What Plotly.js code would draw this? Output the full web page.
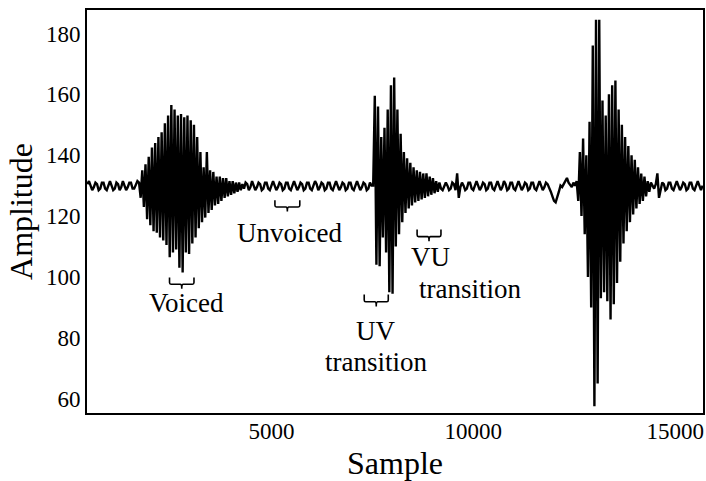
<!DOCTYPE html>
<html>
<head>
<meta charset="utf-8">
<script src="https://cdn.plot.ly/plotly-3.0.1.min.js"></script>
<style>html,body{margin:0;padding:0;background:#fff}#chart{width:706px;height:481px}</style>
</head>
<body>
<div id="chart"></div>
<script>
// Sample axis: first sample and spacing between listed amplitude readings
const sampleStart = 440;
const sampleStep = 40;

// Amplitude readings, segment by segment
const leadIn = [130.5,131.5,130,128.5,129.5,131,130.5,128.5,129,131,131,129,128.5,130,131.5,130,
  128.5,129,131,130.5,128.5,129.5,131.5,130,128.5,129.5,131,131,129,129,130.5,131.5];
const voicedBurst = [131,126,135,123,137,119,139.5,117,142.5,115,144,114.5,146,113,147.5,112,
  150.5,110.5,153,106.5,156.5,108,155,109,153,103,153.5,101.5,152.5,108,153,107.5,151.5,111,
  150,113,146,116,141,118,136,119.5,141,121,135,122,134.5,123.5,133,124,133,125,132.5,126,
  132.5,126.5,131.5,127,131.5,127.5,131,128,131,128.5,130.5];
const unvoicedGap = [129,131,130.5,128.5,129.5,131.5,130,128.5,
  129.5,131,130.5,128.5,129,131,131,129,
  128.5,130,131.5,130,128.5,129.5,131,130.5,
  128.5,129,131,131,129,128.5,130,131.5,
  130,128.5,129.5,131,130.5,128.5,129,131,
  131,129,128.5,130,131.5,130.5,128.5,129.5,
  131,130.5,128.5,129,131,131,129,128.5,
  130,131.5,130,128.5,129.5,131,130.5,128.5,
  129,131,131,129,128.5,130,131.5,130,
  128.5,129.5,131,130.5,128.5,129,131,130];
const uvBurst = [130,159.5,104,156,103.5,146,113,149,108,155,95,163,94.5,165.5,110,155,114,147,
  118,141,121,139,122.5,137.5,123.5,136,124.5,135,125,134.5,125.5,134,126,134,126.5,133,127,
  132.5,127.5,131.5,128,131];
const midGap = [129,128.5,130,131,130,128.5,129,131,
  130.5,128.5,134,126,129.5,131,130,128.5,
  129,131,131,129,128.5,130,131.5,130,
  128.5,129.5,131,130.5,128.5,129,131,131,
  129,128.5,130,131.5,130,128.5,129.5,131.5,
  130.5,128.5,129,131,131,129,128.5,130,
  131.5,130,128.5,129.5,131,130.5,128.5,129,
  131,131,129,128.5,130,131.5,130,128.5,
  129.5,131,130.5,129.5,128,126.5,125,124.5,
  126,128,130,129.5,130.5,131.5,132.5,131,
  130,129.5,131];
const finalBurst = [130,131.5,125,141,120,145.5,114,140,100,151,90,176,57.5,184.5,65,184.5,93,158,
  95,153,92,160,86,163,91,164.5,98,155,105,150,111,146,115,143,118,140,120.5,138.5,122.5,136,
  124,134,125,133,126.5,131.5,128,131];
const tailOut = [130,129,130.5,134,126,129,131,130.5,
  128.5,129,131,131,129,128.5,130,131.5,
  130,128.5,129.5,131,130.5,128.5,129,131,
  131,129,128.5,130,131.5,130,128.5,130];

const amplitude = [].concat(leadIn, voicedBurst, unvoicedGap, uvBurst, midGap, finalBurst, tailOut);
const sample = amplitude.map((_, i) => sampleStart + sampleStep * i);

// Axis ticks
const xTicks = [5000, 10000, 15000];
const yTicks = [60, 80, 100, 120, 140, 160, 180];

// Region labels: [left sample, right sample, brace top amplitude, brace depth]
const braceSpans = [[2475, 3081, 99.8, 3.7], [5086, 5702, 125.2, 3.7], [7298, 7894, 94.2, 3.9], [8608, 9199, 115.6, 3.9]];
const labelTexts = ["Voiced", "Unvoiced", "UV", "transition", "VU", "transition"];
const labelX = [2894, 5443, 7586, 7586, 8930, 9914];
const labelY = [91.3, 114.3, 82.4, 72.0, 106.4, 96.2];

const FONT = "Liberation Serif, Times New Roman, serif";

function bracePath(xl, xr, yt, d) {
  const xc = (xl + xr) / 2, w = xr - xl;
  const yb = yt - d * 0.6, ytip = yt - d;
  const r = w * 0.06;
  return `M${xl},${yt} L${xl},${yb + d*0.15} Q${xl},${yb} ${xl + r},${yb} L${xc - r},${yb} ` +
         `Q${xc},${yb} ${xc},${ytip} Q${xc},${yb} ${xc + r},${yb} L${xr - r},${yb} ` +
         `Q${xr},${yb} ${xr},${yb + d*0.15} L${xr},${yt}`;
}

const shapes = braceSpans.map(b => ({
  type: 'path', xref: 'x', yref: 'y', path: bracePath(b[0], b[1], b[2], b[3]),
  line: {color: 'black', width: 1.6}
}));

const annotations = labelTexts.map((t, i) => ({
  x: labelX[i], y: labelY[i], xref: 'x', yref: 'y', text: t, showarrow: false,
  xanchor: 'center', yanchor: 'middle', font: {family: FONT, size: 27, color: 'black'}
}));

const trace = {
  x: sample, y: amplitude, type: 'scatter', mode: 'lines',
  line: {color: 'black', width: 2.4}, hoverinfo: 'skip'
};

const layout = {
  width: 706, height: 481,
  margin: {l: 87, r: 3, t: 10, b: 68, pad: 0},
  paper_bgcolor: 'white', plot_bgcolor: 'white',
  showlegend: false,
  font: {family: FONT, color: 'black'},
  xaxis: {
    range: [431, 15690], tickvals: xTicks, ticktext: xTicks.map(String),
    showgrid: false, zeroline: false, showline: true, mirror: true,
    linecolor: 'black', linewidth: 2, ticks: '', ticklen: 0, ticklabelstandoff: -4,
    tickfont: {family: FONT, size: 23, color: 'black'},
    title: {text: 'Sample', font: {family: FONT, size: 32, color: 'black'}, standoff: 9}
  },
  yaxis: {
    range: [55.3, 187.7], tickvals: yTicks, ticktext: yTicks.map(String),
    showgrid: false, zeroline: false, showline: true, mirror: true,
    linecolor: 'black', linewidth: 2, ticks: '', ticklen: 0,
    tickfont: {family: FONT, size: 23, color: 'black'},
    title: {text: 'Amplitude', font: {family: FONT, size: 32, color: 'black'}, standoff: 4}
  },
  shapes: shapes,
  annotations: annotations
};

Plotly.newPlot('chart', [trace], layout, {staticPlot: true, displayModeBar: false});
</script>
</body>
</html>
